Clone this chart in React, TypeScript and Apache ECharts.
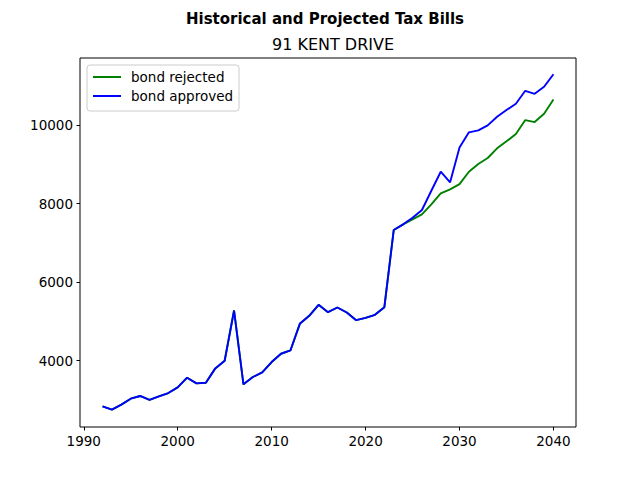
import React, { useEffect, useRef } from "react";
import * as echarts from "echarts";

const years: number[] = [];
for (let y = 1992; y <= 2040; y++) years.push(y);

const historical = [
  2840, 2755, 2882, 3034, 3103, 3001, 3093, 3178, 3322, 3568,
  3424, 3441, 3805, 4000, 5278, 3400, 3586, 3703, 3966, 4178,
  4262, 4940, 5144, 5423, 5237, 5355, 5228, 5033, 5093, 5169,
  5364,
];
// 2023 .. 2040
const rejectedProj = [
  7329, 7473, 7600, 7727, 7982, 8262, 8363, 8498, 8812, 9008,
  9161, 9407, 9585, 9771, 10127, 10076, 10287, 10652,
];
const approvedProj = [
  7329, 7473, 7640, 7837, 8327, 8812, 8541, 9430, 9814, 9865,
  9992, 10212, 10382, 10542, 10872, 10796, 10974, 11293,
];

const xTicks = [1990, 2000, 2010, 2020, 2030, 2040];
const yTicks = [4000, 6000, 8000, 10000];

const rejected = historical.concat(rejectedProj);
const approved = historical.concat(approvedProj);

export default function App() {
  const ref = useRef<HTMLDivElement>(null);
  useEffect(() => {
    if (!ref.current) return;
    const chart = echarts.init(ref.current, null, { renderer: "svg" });
    const font = "DejaVu Sans";
    chart.setOption({
      animation: false,
      backgroundColor: "#fff",
      textStyle: { fontFamily: font },
      title: [
        {
          text: "Historical and Projected Tax Bills",
          left: 320,
          top: 6,
          textAlign: "center",
          textStyle: { fontFamily: font, fontSize: 15, fontWeight: "bold", color: "#000" },
        },
        {
          text: "91 KENT DRIVE",
          left: 328,
          top: 31,
          textAlign: "center",
          textStyle: { fontFamily: font, fontSize: 16, fontWeight: "normal", color: "#000" },
        },
      ],
      legend: {
        orient: "vertical",
        left: 87,
        top: 65,
        padding: [5, 6, 8, 6],
        itemGap: 5,
        itemWidth: 28,
        itemHeight: 2,
        icon: "rect",
        borderColor: "#cccccc",
        borderWidth: 1,
        borderRadius: 3,
        backgroundColor: "rgba(255,255,255,0.8)",
        textStyle: { fontFamily: font, fontSize: 13.5, color: "#000", padding: [0, 0, 0, 5] },
        data: ["bond rejected", "bond approved"],
      },
      grid: {
        left: 80,
        right: 64,
        top: 58,
        bottom: 53,
        show: true,
        borderColor: "#000",
        borderWidth: 1,
        containLabel: false,
      },
      xAxis: {
        type: "value",
        min: 1989.6,
        max: 2042.4,
        splitLine: { show: false },
        axisLine: { show: false },
        axisTick: { show: true, length: 3.5, lineStyle: { color: "#000" }, customValues: xTicks },
        axisLabel: {
          customValues: xTicks,
          margin: 7,
          color: "#000",
          fontFamily: font,
          fontSize: 13.5,
          formatter: (v: number) => String(v),
        },
      },
      yAxis: {
        type: "value",
        min: 2313,
        max: 11707,
        splitLine: { show: false },
        axisLine: { show: false },
        axisTick: { show: true, length: 3.5, lineStyle: { color: "#000" }, customValues: yTicks },
        axisLabel: {
          customValues: yTicks,
          margin: 7,
          color: "#000",
          fontFamily: font,
          fontSize: 13.5,
          formatter: (v: number) => String(v),
        },
      },
      series: [
        {
          name: "bond rejected",
          type: "line",
          symbol: "none",
          color: "#008000",
          lineStyle: { color: "#008000", width: 1.9 },
          data: years.map((y, i) => [y, rejected[i]]),
        },
        {
          name: "bond approved",
          type: "line",
          symbol: "none",
          color: "#0000ff",
          lineStyle: { color: "#0000ff", width: 1.9 },
          data: years.map((y, i) => [y, approved[i]]),
        },
      ],
    });
    return () => chart.dispose();
  }, []);
  return <div ref={ref} style={{ width: 640, height: 480, position: "absolute", left: 0, top: 0 }} />;
}
